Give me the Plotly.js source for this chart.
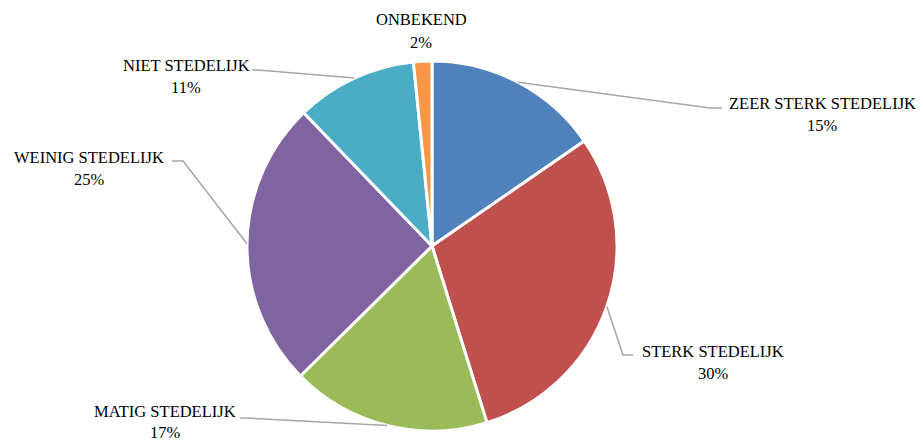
<!DOCTYPE html>
<html>
<head>
<meta charset="utf-8">
<script src="https://cdn.plot.ly/plotly-3.0.1.min.js"></script>
<style>html,body{margin:0;padding:0;background:#fff;}#chart{width:923px;height:442px;}</style>
</head>
<body>
<div id="chart"></div>
<script>
// Data
const categories = ["ZEER STERK STEDELIJK", "STERK STEDELIJK", "MATIG STEDELIJK", "WEINIG STEDELIJK", "NIET STEDELIJK", "ONBEKEND"];
const values = [15.4, 29.8, 17.4, 25.2, 10.6, 1.6];
const colors = ["#4F81BD", "#C0504D", "#9BBB59", "#8064A2", "#4BACC6", "#F79646"];

// Layout geometry (pixels)
const W = 923, H = 442;
const cx = 432, cy = 246, R = 185;
// label placement: [label center x, label first-line y, elbow x, elbow y, end x, line gap]
const labelPos = [
  [822, 103, 710, 108, 722, 22.5],
  [713, 351, 623, 355, 633, 22.5],
  [165, 411, 245, 418, 240, 21.5],
  [89, 157, 183, 161, 172, 22.5],
  [186, 65, 258, 70, 252, 22.5],
  [421, 20, null, null, null, 22.5]
];
const FONT = "'Liberation Serif', 'DejaVu Serif', 'Times New Roman', serif";

const px = x => x / W;
const py = y => 1 - y / H;

const total = values.reduce((a, b) => a + b, 0);
const shapes = [];
const annotations = [];
let cum = 0;
values.forEach((v, i) => {
  const mid = (cum + v / 2) / total * 2 * Math.PI;
  cum += v;
  const sx = cx + R * Math.sin(mid);
  const sy = cy - R * Math.cos(mid);
  const lp = labelPos[i];
  if (lp[2] !== null) {
    shapes.push({
      type: "path", xref: "paper", yref: "paper",
      path: `M ${px(sx)} ${py(sy)} L ${px(lp[2])} ${py(lp[3])} L ${px(lp[4])} ${py(lp[3])}`,
      line: {color: "#A6A6A6", width: 1.5}
    });
  }
  const pct = Math.round(v / total * 100) + "%";
  annotations.push({
    xref: "paper", yref: "paper", x: px(lp[0]), y: py(lp[1]),
    xanchor: "center", yanchor: "middle", showarrow: false,
    text: categories[i], font: {family: FONT, size: 16.5, color: "#000"}
  });
  annotations.push({
    xref: "paper", yref: "paper", x: px(lp[0]), y: py(lp[1] + lp[5]),
    xanchor: "center", yanchor: "middle", showarrow: false,
    text: pct, font: {family: FONT, size: 16.5, color: "#000"}
  });
});

const trace = {
  type: "pie",
  labels: categories,
  values: values,
  sort: false,
  direction: "clockwise",
  rotation: 0,
  textinfo: "none",
  hoverinfo: "label+percent",
  marker: {colors: colors, line: {color: "#FFFFFF", width: 3}},
  domain: {x: [px(cx - R), px(cx + R)], y: [py(cy + R), py(cy - R)]},
  showlegend: false
};

Plotly.newPlot("chart", [trace], {
  width: W, height: H,
  margin: {l: 0, r: 0, t: 0, b: 0},
  paper_bgcolor: "#FFFFFF",
  showlegend: false,
  shapes: shapes,
  annotations: annotations
}, {displayModeBar: false, staticPlot: true});
</script>
</body>
</html>
